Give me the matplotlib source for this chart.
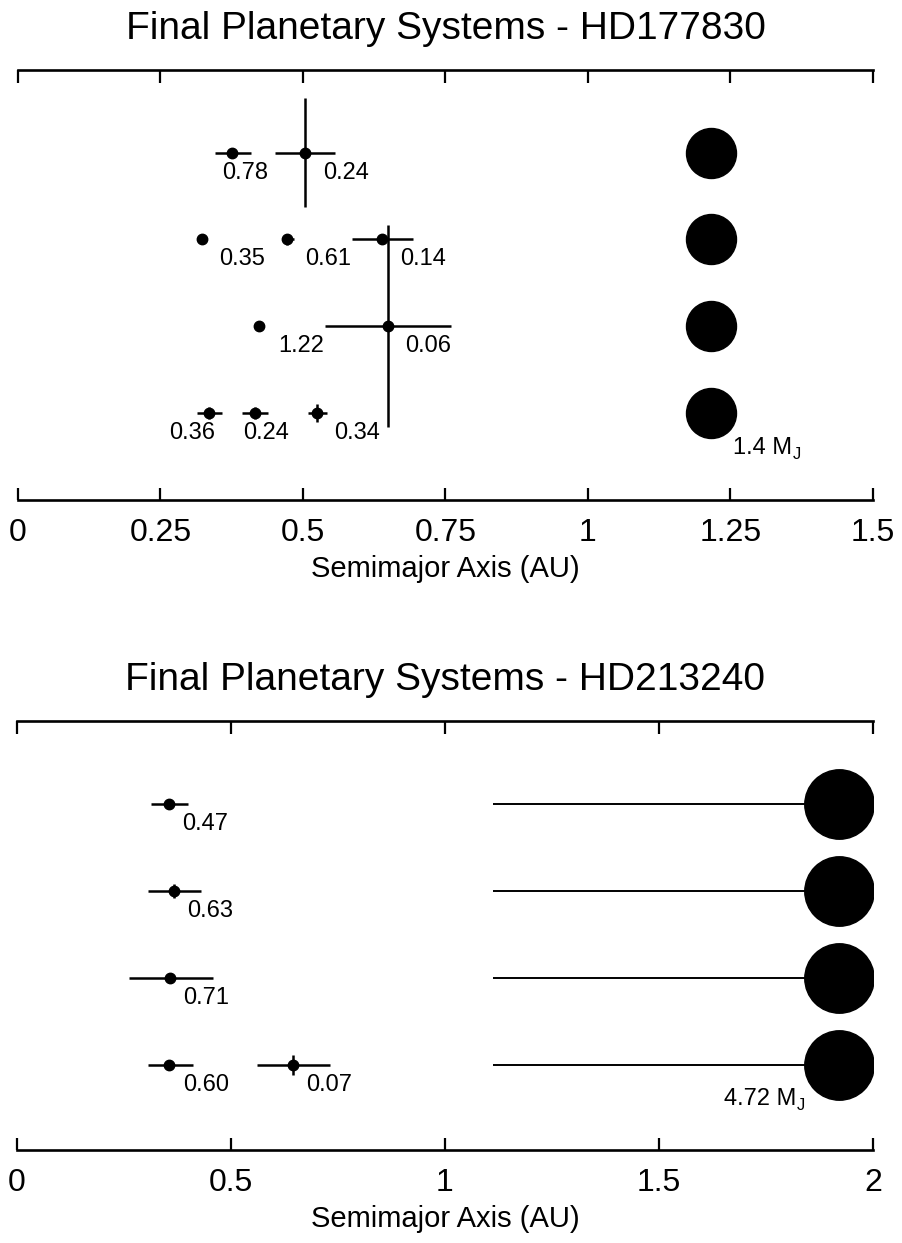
import matplotlib.pyplot as plt

plt.rcParams['font.family'] = ['Liberation Sans', 'DejaVu Sans']

# HD177830: small planets (row = simulation, a = semimajor axis,
# lo/hi = periastron/apastron, di = vertical bar half-length, m = mass label)
row1 = [4, 4, 3, 3, 3, 2, 2, 1, 1, 1]
a1 = [0.375, 0.503, 0.323, 0.472, 0.639, 0.423, 0.649, 0.335, 0.416, 0.525]
lo1 = [0.346, 0.451, 0.323, 0.465, 0.586, 0.423, 0.539, 0.314, 0.393, 0.509]
hi1 = [0.409, 0.556, 0.323, 0.484, 0.693, 0.423, 0.760, 0.358, 0.439, 0.542]
di1 = [0, 0.63, 0, 0.06, 0, 0, 1.16, 0.07, 0.07, 0.1]
m1 = ['0.78', '0.24', '0.35', '0.61', '0.14', '1.22', '0.06', '0.36', '0.24', '0.34']
big1_a = 1.216
big1_m = '1.4 M'

# HD213240
row2 = [4, 3, 2, 1, 1]
a2 = [0.356, 0.367, 0.358, 0.356, 0.646]
lo2 = [0.313, 0.306, 0.262, 0.306, 0.561]
hi2 = [0.400, 0.430, 0.458, 0.411, 0.732]
di2 = [0, 0.08, 0, 0, 0.115]
m2 = ['0.47', '0.63', '0.71', '0.60', '0.07']
big2_a = 1.920
big2_lo = 1.113
big2_hi = 2.727
big2_m = '4.72 M'

big_rows = [1, 2, 3, 4]

# label offsets in pixels (right) from each point
off1 = [-10, 18, 17, 18, 18, 19, 17, -40, -12, 17]
off2 = [13, 13, 13, 14, 13]

px = 0.72  # points per pixel at dpi 100

fig = plt.figure(figsize=(9.02, 12.43), dpi=100)
ax1 = fig.add_axes([18/902, 1-500/1243, 855/902, 430/1243])
ax2 = fig.add_axes([17/902, 1-1150/1243, 856/902, 429/1243])


def style(ax, xmax, ticks, ticklabels, title, ylo):
    ax.set_xlim(0, xmax)
    ax.set_ylim(ylo, 4.95)
    for s in ['left', 'right']:
        ax.spines[s].set_visible(False)
    for s in ['top', 'bottom']:
        ax.spines[s].set_linewidth(1.9)
    ax.set_yticks([])
    ax.set_xticks(ticks)
    ax.set_xticklabels(ticklabels)
    ax.tick_params(axis='x', which='both', direction='in', top=True, bottom=True,
                   length=9, width=1.6, labelsize=23, pad=13)
    ax.set_xlabel('Semimajor Axis (AU)', fontsize=21, labelpad=5)
    ax.set_title(title, fontsize=28, pad=22)


def draw(ax, rows, a, lo, hi, di, m, off):
    for i in range(len(a)):
        ax.errorbar(a[i], rows[i], xerr=[[a[i]-lo[i]], [hi[i]-a[i]]], yerr=di[i],
                    fmt='o', color='black', ms=7.5, lw=1.8, capsize=0)
        ax.annotate(m[i], (a[i], rows[i]), xytext=(off[i]*px, -20*px),
                    textcoords='offset points', ha='left', va='center', fontsize=17)


def mass_label(ax, x, y, text, dx, dy):
    t = ax.annotate(text, (x, y), xytext=(dx*px, -dy*px), textcoords='offset points',
                    ha='left', va='center', fontsize=17)
    fig.canvas.draw()
    w = t.get_window_extent().width
    ax.annotate('J', (x, y), xytext=((dx + w + 1)*px, -(dy + 6)*px),
                textcoords='offset points', ha='left', va='center', fontsize=12)


style(ax1, 1.5, [0, 0.25, 0.5, 0.75, 1, 1.25, 1.5],
      ['0', '0.25', '0.5', '0.75', '1', '1.25', '1.5'],
      'Final Planetary Systems - HD177830', 0.0)
draw(ax1, row1, a1, lo1, hi1, di1, m1, off1)
for r in big_rows:
    ax1.plot(big1_a, r, 'o', color='black', ms=36)
mass_label(ax1, big1_a, 1, big1_m, 22, 35)

style(ax2, 2, [0, 0.5, 1, 1.5, 2], ['0', '0.5', '1', '1.5', '2'],
      'Final Planetary Systems - HD213240', 0.03)
draw(ax2, row2, a2, lo2, hi2, di2, m2, off2)
for r in big_rows:
    ax2.errorbar(big2_a, r, xerr=[[big2_a-big2_lo], [big2_hi-big2_a]], fmt='o',
                 color='black', ms=50, lw=1.4, capsize=0)
mass_label(ax2, big2_a, 1, big2_m, -115, 34)

fig.savefig('out.png', dpi=100)
